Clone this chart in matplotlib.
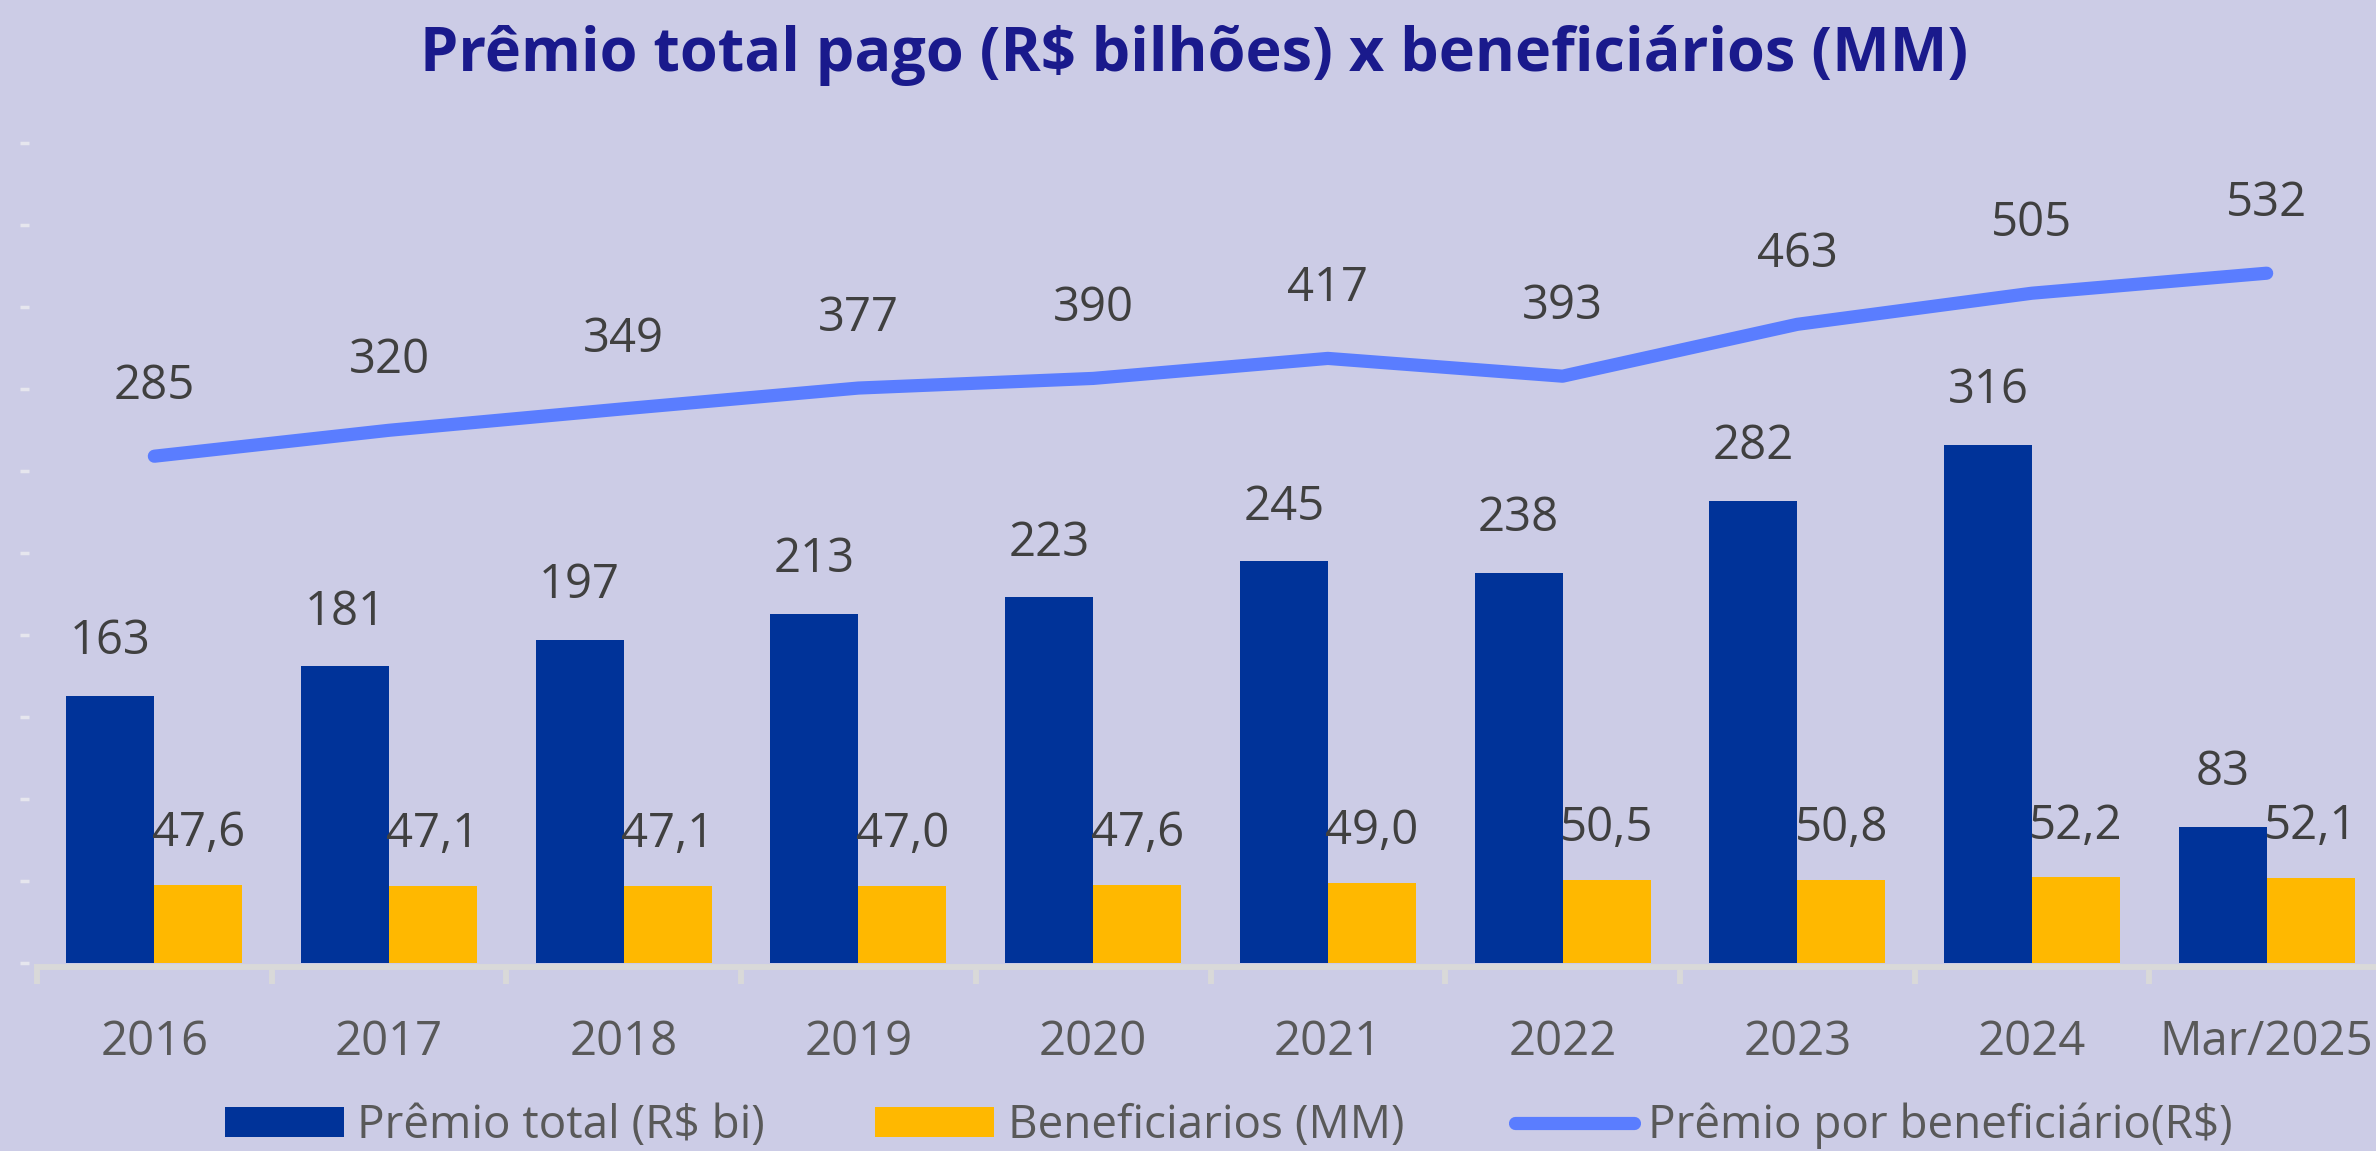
import numpy as np
import matplotlib
matplotlib.use('Agg')
import matplotlib.pyplot as plt
from matplotlib.patches import Patch
from matplotlib.lines import Line2D

# data
categories = ['2016', '2017', '2018', '2019', '2020', '2021', '2022', '2023', '2024', 'Mar/2025']
premio_total = [163, 181, 197, 213, 223, 245, 238, 282, 316, 83]
beneficiarios = [47.6, 47.1, 47.1, 47.0, 47.6, 49.0, 50.5, 50.8, 52.2, 52.1]
premio_por_benef = [285, 320, 349, 377, 390, 417, 393, 463, 505, 532]

bar_labels = ['163', '181', '197', '213', '223', '245', '238', '282', '316', '83']
benef_labels = ['47,6', '47,1', '47,1', '47,0', '47,6', '49,0', '50,5', '50,8', '52,2', '52,1']
line_labels = ['285', '320', '349', '377', '390', '417', '393', '463', '505', '532']

BG = '#CCCCE6'
BLUE = '#003399'
GOLD = '#FFB800'
LINE = '#5A7DFF'
LABEL = '#404040'
TICK = '#595959'

plt.rcParams['font.family'] = ['Open Sans', 'DejaVu Sans']

fig = plt.figure(figsize=(23.76, 11.51), dpi=100, facecolor=BG)
ax = fig.add_axes([37 / 2376, 188 / 1151, 2347 / 2376, 918 / 1151])
ax.set_facecolor(BG)

x = np.arange(len(categories))
w = 0.375
ax.bar(x - w / 2, premio_total, w, color=BLUE, zorder=2)
ax.bar(x + w / 2, beneficiarios, w, color=GOLD, zorder=2)

for xi, v, s in zip(x, premio_total, bar_labels):
    ax.annotate(s, (xi - w / 2, v), xytext=(0, 30), textcoords='offset points',
                ha='center', va='baseline', fontsize=34, color=LABEL)
for xi, v, s in zip(x, beneficiarios, benef_labels):
    ax.annotate(s, (xi + w / 2, v), xytext=(0, 28), textcoords='offset points',
                ha='center', va='baseline', fontsize=34, color=LABEL)

ax.set_xlim(-0.5, len(categories) - 0.5)
ax.set_ylim(0, 560)
ax.set_yticks(np.arange(0, 501, 50))
ax.set_yticklabels([])
ax.tick_params(axis='y', length=6.5, width=2.5, color='#E6E6EE')
ax.spines['left'].set_visible(False)
ax.spines['left'].set_position(('outward', 6))
ax.spines['top'].set_visible(False)
ax.spines['right'].set_visible(False)
ax.spines['bottom'].set_color('#D9D9D9')
ax.spines['bottom'].set_linewidth(4.3)
ax.spines['bottom'].set_position(('outward', 3))

# ticks between categories, labels at the centres
ax.set_xticks(np.arange(-0.5, len(categories)), minor=False)
ax.set_xticklabels([])
ax.set_xticks(x, minor=True)
ax.set_xticklabels(categories, minor=True)
ax.tick_params(axis='x', which='major', length=12, width=4.3, color='#D9D9D9')
ax.tick_params(axis='x', which='minor', length=0, pad=37, labelsize=34, labelcolor=TICK)

# line on a secondary scale
ax2 = ax.twinx()
ax2.set_ylim(-399, 840)
ax2.axis('off')
ax2.plot(x, premio_por_benef, color=LINE, lw=9.5, solid_capstyle='round', zorder=3)
for xi, v, s in zip(x, premio_por_benef, line_labels):
    ax2.annotate(s, (xi, v), xytext=(0, 41), textcoords='offset points',
                 ha='center', va='baseline', fontsize=34, color=LABEL)

fig.text(0.5025, 1 - 71 / 1151, 'Prêmio total pago (R$ bilhões) x beneficiários (MM)',
         ha='center', va='baseline', fontsize=44, fontweight='bold', color='#1A1A8C')

handles = [Patch(facecolor=BLUE, label='Prêmio total (R$ bi)'),
           Patch(facecolor=GOLD, label='Beneficiarios (MM)'),
           Line2D([], [], color=LINE, lw=9.5, solid_capstyle='round', label='Prêmio por beneficiário(R$)')]
leg = fig.legend(handles=handles, loc='center', bbox_to_anchor=(0.517, 1 - 1126 / 1151), ncol=3,
                 frameon=False, fontsize=33, handlelength=2.6, handleheight=0.64,
                 handletextpad=0.3, columnspacing=2.4, labelcolor='#595959')

fig.savefig('out.png', dpi=100, facecolor=BG)
